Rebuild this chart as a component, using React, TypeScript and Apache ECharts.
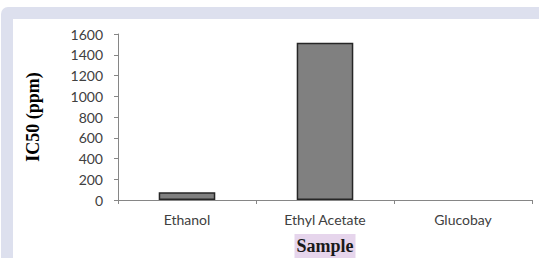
import React, { useEffect, useRef } from "react";
import * as echarts from "echarts";

const categories = ["Ethanol", "Ethyl Acetate", "Glucobay"];
const ic50Values = [75, 1515, 0];
const yTicks = { min: 0, max: 1600, interval: 200 };
const xAxisTitle = "Sample";
const yAxisTitle = "IC50 (ppm)";

export default function App() {
  const ref = useRef<HTMLDivElement>(null);
  useEffect(() => {
    if (!ref.current) return;
    const chart = echarts.init(ref.current, null, { renderer: "svg" });
    const axisColor = "#868686";
    const labelFont = { fontFamily: "Lato", fontSize: 14, color: "#404040" };
    chart.setOption({
      animation: false,
      backgroundColor: "#ffffff",
      graphic: [
        {
          type: "rect",
          z: -10,
          silent: true,
          shape: { x: 1, y: 7, width: 560, height: 300, r: 7 },
          style: { fill: "#dde0ee" },
        },
        {
          type: "rect",
          z: -9,
          silent: true,
          shape: { x: 13, y: 19, width: 560, height: 300 },
          style: { fill: "#ffffff" },
        },
      ],
      grid: {
        left: 118,
        right: 7,
        top: 34,
        bottom: 58,
        containLabel: false,
        outerBoundsMode: "none",
      },
      xAxis: {
        type: "category",
        data: categories,
        boundaryGap: true,
        axisLine: { show: true, lineStyle: { color: axisColor, width: 1 } },
        axisTick: { show: true, alignWithLabel: false, length: 4, lineStyle: { color: axisColor } },
        axisLabel: { ...labelFont, margin: 12 },
        name: xAxisTitle,
        nameLocation: "middle",
        nameGap: 34,
        nameTextStyle: {
          fontFamily: "Liberation Serif",
          fontWeight: "bold",
          fontSize: 18,
          color: "#1a1a1a",
          backgroundColor: "#e6d5ec",
          padding: [3, 2, 3, 2],
        },
      },
      yAxis: {
        type: "value",
        min: yTicks.min,
        max: yTicks.max,
        interval: yTicks.interval,
        axisLine: { show: true, lineStyle: { color: axisColor, width: 1 } },
        axisTick: { show: true, inside: false, length: 4, lineStyle: { color: axisColor } },
        splitLine: { show: false },
        axisLabel: { ...labelFont, margin: 15, formatter: (v: number) => String(v) },
        name: yAxisTitle,
        nameLocation: "middle",
        nameGap: 76,
        nameTextStyle: {
          fontFamily: "Liberation Serif",
          fontWeight: "bold",
          fontSize: 18,
          color: "#000000",
        },
      },
      series: [
        {
          type: "bar",
          data: ic50Values.map((v) =>
            v === 0 ? { value: v, itemStyle: { borderWidth: 0 } } : v
          ),
          barWidth: "41%",
          itemStyle: { color: "#808080", borderColor: "#262626", borderWidth: 1.5 },
        },
      ],
    });
    return () => chart.dispose();
  }, []);
  return (
    <div
      ref={ref}
      style={{ position: "absolute", left: 0, top: 0, width: 539, height: 258 }}
    />
  );
}
